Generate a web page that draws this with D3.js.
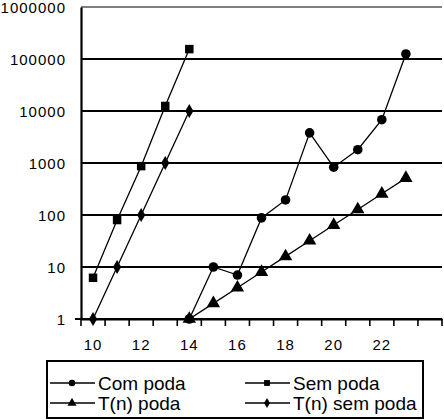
<!DOCTYPE html>
<html lang="en">
<head>
<meta charset="UTF-8">
<title>Com poda / Sem poda</title>
<script src="https://cdn.jsdelivr.net/npm/d3@7"></script>
<style>
  body { margin: 0; background: #fff; }
  text { font-family: "Liberation Sans", Arial, sans-serif; fill: #000; }
</style>
</head>
<body>
<div id="chart"></div>
<script>
// data
var categories = [10, 11, 12, 13, 14, 15, 16, 17, 18, 19, 20, 21, 22, 23, 24];
var xLabels = [10, 12, 14, 16, 18, 20, 22];
var yTicks = [1, 10, 100, 1000, 10000, 100000, 1000000];

var comPoda = [[14, 1], [15, 10], [16, 7], [17, 88], [18, 195], [19, 3800], [20, 830], [21, 1800], [22, 6800], [23, 125000]];
var semPoda = [[10, 6.2], [11, 80], [12, 870], [13, 12500], [14, 155000]];
var tnPoda = [[14, 1], [15, 2], [16, 4], [17, 8], [18, 16], [19, 32], [20, 64], [21, 128], [22, 256], [23, 512]];
var tnSemPoda = [[10, 1], [11, 10], [12, 100], [13, 1000], [14, 10000]];

var seriesNames = ["Com poda", "Sem poda", "T(n) poda", "T(n) sem poda"];
var seriesData = [comPoda, semPoda, tnPoda, tnSemPoda];
var seriesSymbols = [d3.symbolCircle, d3.symbolSquare, d3.symbolTriangle, d3.symbolDiamond];

var W = 444, H = 420;
var plotL = 81, plotR = 442, plotT = 7, plotB = 319;

var svg = d3.select("#chart").append("svg")
  .attr("width", W)
  .attr("height", H);

var x = d3.scaleBand().domain(categories).range([plotL, plotR]);
var y = d3.scaleLog().domain([1, 1000000]).range([plotB, plotT]);
var cx = function(v) { return x(v) + x.bandwidth() / 2; };

// gridlines
svg.selectAll("line.grid")
  .data(yTicks)
  .enter().append("line")
  .attr("class", "grid")
  .attr("x1", function(d) { return d === 1 ? plotL - 6 : plotL; }).attr("x2", plotR)
  .attr("y1", function(d) { return y(d); })
  .attr("y2", function(d) { return y(d); })
  .attr("stroke", "#000")
  .attr("stroke-width", function(d) { return d === 1000000 ? 1.2 : 2.2; });

// y axis
var yAxis = d3.axisLeft(y).tickValues(yTicks).tickSize(0).tickPadding(15)
  .tickFormat(d3.format("d"));
var gy = svg.append("g").attr("transform", "translate(" + plotL + ",0)").call(yAxis);
gy.attr("font-size", 15);
gy.select(".domain").attr("stroke-width", 2.2);
gy.selectAll("text")
  .style("font-size", "15px").style("letter-spacing", "1px")
  .attr("dy", "0.36em");

// x axis
var xAxis = d3.axisBottom(x).tickSize(0).tickPadding(20)
  .tickFormat(function(d) { return xLabels.indexOf(d) >= 0 ? d : ""; });
var gx = svg.append("g").attr("transform", "translate(0," + plotB + ")").call(xAxis);
gx.attr("font-size", 15);
gx.select(".domain").attr("stroke-width", 2.2);
gx.selectAll("text")
  .style("font-size", "15px").style("letter-spacing", "1px");

// tick marks between categories
svg.selectAll("line.xtick")
  .data(categories.concat([null]))
  .enter().append("line")
  .attr("class", "xtick")
  .attr("x1", function(d, i) { return plotL + i * x.step(); })
  .attr("x2", function(d, i) { return plotL + i * x.step(); })
  .attr("y1", plotB).attr("y2", plotB + 7)
  .attr("stroke", "#000").attr("stroke-width", 1.6);

// series
var line = d3.line().x(function(d) { return cx(d[0]); }).y(function(d) { return y(d[1]); });
var markerSizes = [72, 72, 78, 58];

seriesData.forEach(function(data, i) {
  svg.append("path")
    .datum(data)
    .attr("d", line)
    .attr("fill", "none")
    .attr("stroke", "#000")
    .attr("stroke-width", 1.3);
  svg.selectAll("path.m" + i)
    .data(data)
    .enter().append("path")
    .attr("class", "m" + i)
    .attr("transform", function(d) { return "translate(" + cx(d[0]) + "," + y(d[1]) + ")"; })
    .attr("d", d3.symbol().type(seriesSymbols[i]).size(markerSizes[i]))
    .attr("fill", "#000");
});

// legend
var legend = svg.append("g");
legend.append("rect")
  .attr("x", 47).attr("y", 361).attr("width", 376).attr("height", 57)
  .attr("fill", "#fff").attr("stroke", "#000").attr("stroke-width", 2);

var legendPos = [[50, 383], [245, 383], [50, 403], [245, 403]];
var legendSizes = [34, 34, 36, 30];
seriesNames.forEach(function(name, i) {
  var p = legendPos[i];
  var g = legend.append("g").attr("transform", "translate(" + p[0] + "," + p[1] + ")");
  g.append("line").attr("x1", 0).attr("x2", 45).attr("y1", 0).attr("y2", 0)
    .attr("stroke", "#000").attr("stroke-width", 1.3);
  g.append("path").attr("transform", "translate(22,0)")
    .attr("d", d3.symbol().type(seriesSymbols[i]).size(legendSizes[i]))
    .attr("fill", "#000");
  g.append("text").attr("x", 48).attr("y", 0).attr("dy", "0.36em")
    .style("font-size", "19px")
    .text(name);
});
</script>
</body>
</html>
